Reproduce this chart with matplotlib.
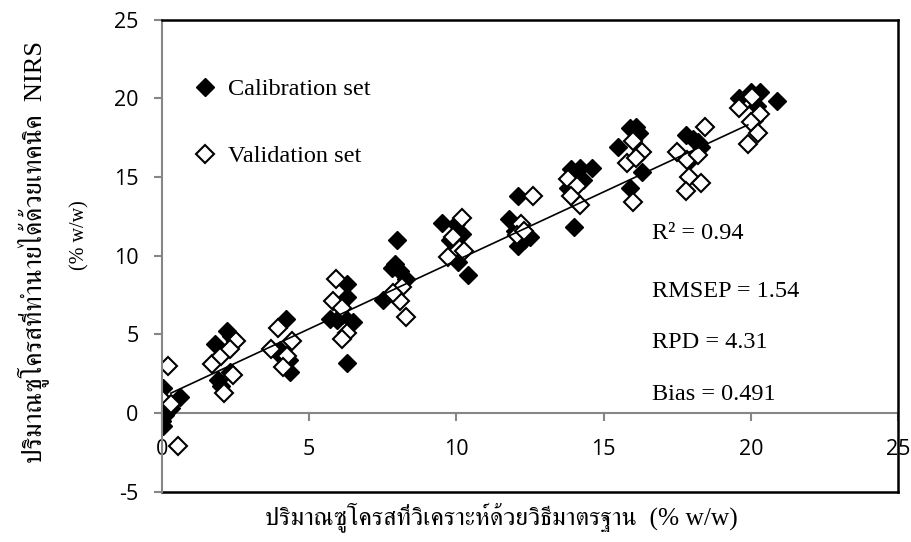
import matplotlib
matplotlib.use("Agg")
import matplotlib.pyplot as plt
from matplotlib import font_manager, ft2font
from matplotlib.lines import Line2D

# reference (laboratory) sucrose vs NIRS-predicted sucrose, % w/w
cal_x = [0.05, 0.1, 0.0, 0.05, 0.3, 0.6,
         1.8, 2.2, 2.35, 1.9, 2.0, 2.3,
         4.2, 4.0, 4.3, 4.35, 3.9,
         6.3, 6.3, 5.7, 5.95, 6.5, 6.3, 6.1,
         8.0, 7.9, 8.1, 8.3, 7.5, 7.8,
         9.5, 10.0, 10.2, 10.05, 10.4, 9.8,
         12.1, 11.8, 12.0, 12.1, 12.5, 12.3,
         13.9, 14.2, 14.6, 14.1, 14.3, 14.0, 13.8,
         15.9, 16.1, 16.2, 15.5, 16.3, 15.9,
         17.8, 18.05, 18.3, 18.2, 17.9,
         19.6, 20.0, 20.3, 20.9, 20.2, 20.1]
cal_y = [1.6, -0.1, -0.5, -0.85, 0.3, 1.0,
         4.4, 5.2, 4.9, 2.1, 1.7, 2.6,
         6.0, 4.0, 3.4, 2.6, 3.9,
         8.2, 7.4, 6.0, 5.9, 5.8, 3.2, 6.2,
         11.0, 9.5, 9.0, 8.5, 7.2, 9.2,
         12.1, 12.0, 11.4, 9.6, 8.8, 11.0,
         13.8, 12.3, 11.6, 10.6, 11.2, 11.0,
         15.5, 15.6, 15.6, 15.0, 14.8, 11.8, 14.3,
         18.1, 18.2, 17.8, 16.9, 15.3, 14.3,
         17.7, 17.4, 16.9, 17.2, 16.0,
         20.0, 20.4, 20.4, 19.8, 19.5, 18.6]

val_x = [0.2, 0.0, 0.3, 0.55,
         2.5, 1.7, 2.1, 2.4, 2.0, 2.3,
         3.95, 3.7, 4.25, 4.1, 4.4,
         5.9, 5.8, 6.1, 6.3, 6.1,
         8.15, 8.1, 8.3, 7.85,
         10.2, 9.9, 9.7, 10.25,
         12.6, 12.2, 12.05, 12.3,
         13.8, 14.1, 14.2, 13.9,
         16.0, 16.3, 15.8, 16.0, 16.1,
         18.45, 17.5, 17.85, 18.2, 17.9, 18.3, 17.8,
         20.05, 19.6, 20.3, 20.0, 20.25, 19.9]
val_y = [3.0, 0.9, 0.6, -2.1,
         4.6, 3.1, 1.3, 2.4, 3.6, 4.1,
         5.4, 4.1, 3.6, 2.9, 4.6,
         8.5, 7.1, 6.7, 5.1, 4.7,
         8.0, 7.1, 6.1, 7.6,
         12.4, 11.2, 9.9, 10.3,
         13.8, 12.0, 11.3, 11.6,
         14.9, 14.4, 13.2, 13.8,
         17.3, 16.6, 15.9, 13.4, 16.2,
         18.2, 16.6, 16.1, 16.4, 15.0, 14.6, 14.1,
         20.1, 19.4, 19.0, 18.5, 17.8, 17.1]

# linear fit of the validation set
fit_slope = 0.87
fit_intercept = 1.0
fit_range = [0.3, 19.9]

stats_text = ["R\u00b2 = 0.94", "RMSEP = 1.54", "RPD = 4.31", "Bias = 0.491"]
stats_y = [11.4, 7.7, 4.5, 1.15]

x_ticks = [0, 5, 10, 15, 20, 25]
y_ticks = [-5, 0, 5, 10, 15, 20, 25]

xlabel = "ปริมาณซูโครสที่วิเคราะห์ด้วยวิธีมาตรฐาน  (% w/w)"
ylabel = "ปริมาณซูโครสที่ทำนายได้ด้วยเทคนิค  NIRS"
ylabel_unit = "(% w/w)"

AXIS_GREY = "#868686"

plt.rcParams["font.family"] = "Open Sans"
plt.rcParams["axes.unicode_minus"] = False


def find_thai_font():
    """Return the name of the first installed font that has Thai glyphs."""
    preferred = []
    others = []
    for f in font_manager.fontManager.ttflist:
        try:
            cmap = ft2font.FT2Font(f.fname).get_charmap()
        except Exception:
            continue
        if 0x0E1B in cmap and 0x0E34 in cmap:
            if "serif" in f.name.lower() and "sans" not in f.name.lower():
                preferred.append(f.name)
            else:
                others.append(f.name)
    found = preferred + others
    return found[0] if found else None


thai_font = find_thai_font()
thai_family = ["Liberation Serif"] + ([thai_font] if thai_font else []) + ["DejaVu Sans"]

fig = plt.figure(figsize=(9.12, 5.42), dpi=100)
ax = fig.add_axes([0.1776, 0.0928, 0.8070, 0.8709])

ax.plot(cal_x, cal_y, linestyle="none", marker="D", ms=9.4,
        mfc="black", mec="black", mew=1.0, zorder=3)
ax.plot(val_x, val_y, linestyle="none", marker="D", ms=9.2,
        mfc="white", mec="black", mew=1.5, zorder=3)

fit_y = [fit_slope * x + fit_intercept for x in fit_range]
ax.plot(fit_range, fit_y, color="black", lw=1.2, zorder=4)

ax.set_xlim(0, 25)
ax.set_ylim(-5, 25)
ax.set_xticks(x_ticks)
ax.set_yticks(y_ticks)

# Excel-style axes: grey axis lines through the origin, black plot-area box
ax.spines["left"].set_color(AXIS_GREY)
ax.spines["left"].set_linewidth(1.5)
ax.spines["left"].set_zorder(5)
ax.spines["bottom"].set_position(("data", 0))
ax.spines["bottom"].set_color(AXIS_GREY)
ax.spines["bottom"].set_linewidth(1.5)
for side in ("top", "right"):
    ax.spines[side].set_color("black")
    ax.spines[side].set_linewidth(1.8)
    ax.spines[side].set_zorder(6)
ax.plot([0, 1], [0, 0], transform=ax.transAxes, color="black", lw=1.8,
        clip_on=False, zorder=4.5)

ax.tick_params(axis="both", direction="out", length=5.8, width=1.5,
               color=AXIS_GREY, labelsize=15.5, labelcolor="black")
ax.tick_params(axis="y", pad=11)
ax.tick_params(axis="x", pad=13)

handles = [
    Line2D([], [], linestyle="none", marker="D", ms=9.4, mfc="black", mec="black"),
    Line2D([], [], linestyle="none", marker="D", ms=9.2, mfc="white", mec="black", mew=1.5),
]
ax.legend(handles, ["Calibration set", "Validation set"], loc="upper left",
          bbox_to_anchor=(0.012, 0.922), frameon=False, handlelength=1.0,
          handletextpad=0.45, labelspacing=1.85,
          prop={"family": "Liberation Serif", "size": 17.5})

for label, y in zip(stats_text, stats_y):
    ax.text(16.65, y, label, family="Liberation Serif", fontsize=17.5,
            ha="left", va="center")

fig.text(0.55, 0.045, xlabel, family=thai_family, fontsize=18.3, ha="center",
         va="center")
fig.text(0.036, 0.535, ylabel, family=thai_family, fontsize=19, ha="center",
         va="center", rotation=90)
fig.text(0.088, 0.566, ylabel_unit, family="Liberation Serif", fontsize=14.5,
         ha="center", va="center", rotation=90)

fig.savefig("out.png", dpi=100)
